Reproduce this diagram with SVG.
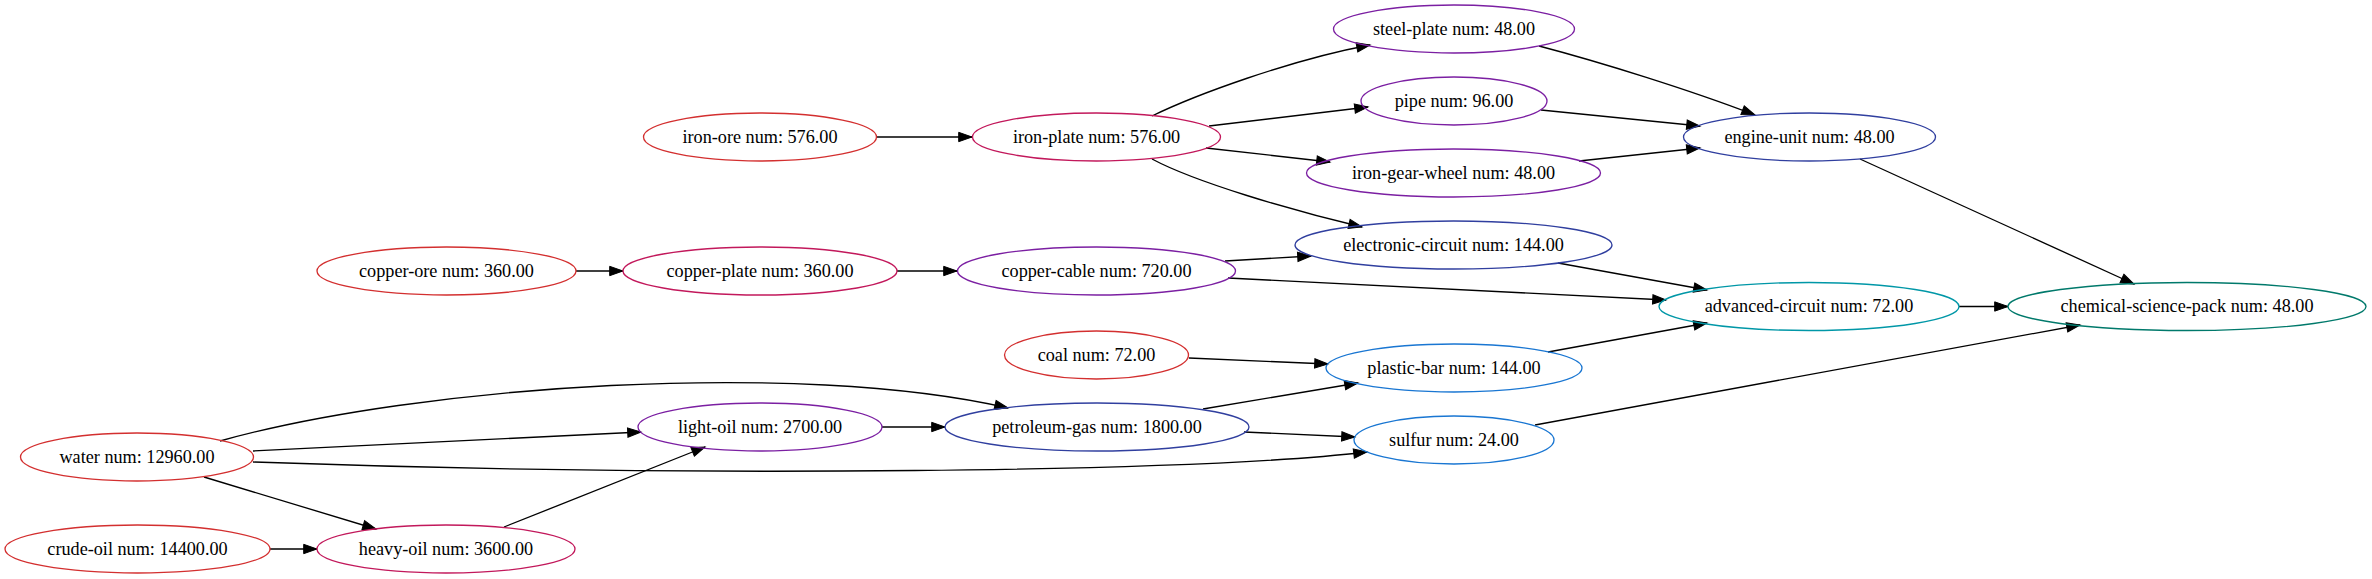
<svg xmlns="http://www.w3.org/2000/svg" width="2372" height="579" viewBox="0 0 2372 579">
<style>
.n ellipse{fill:none;stroke-width:1.33}
.n text{font-family:"Liberation Serif","Times New Roman",serif;font-size:18.2px;text-anchor:middle;fill:#000}
.d0 ellipse{stroke:#d32f2f}
.d1 ellipse{stroke:#c2185b}
.d2 ellipse{stroke:#7b1fa2}
.d3 ellipse{stroke:#303f9f}
.d4 ellipse{stroke:#1976d2}
.d5 ellipse{stroke:#0097a7}
.d6 ellipse{stroke:#00796b}
#edges path{fill:none;stroke:#000;stroke-width:1.33;marker-end:url(#arr)}
</style>
<defs>
<marker id="arr" markerUnits="userSpaceOnUse" markerWidth="14" markerHeight="10" refX="13.3" refY="4.67" orient="auto" overflow="visible">
<path d="M0,0 L13.3,4.67 L0,9.33 Z" fill="#000" stroke="#000" stroke-width="1"/>
</marker>
</defs>
<rect width="2372" height="579" fill="#fff"/>
<g id="edges">
<path d="M876,137 L972,137"/>
<path d="M1152,116 C1195,95 1290,60 1370,45"/>
<path d="M1209,126 L1368,107"/>
<path d="M1206,148 L1330,162"/>
<path d="M1152,159 C1195,182 1290,210 1362,227"/>
<path d="M1539,46 C1600,62 1690,90 1755,115"/>
<path d="M1541,110 L1700,126"/>
<path d="M1579,161 L1700,148"/>
<path d="M1860,159 L2134,284"/>
<path d="M576,271 L623,271"/>
<path d="M897,271 L957,271"/>
<path d="M1225,261 L1311,256"/>
<path d="M1228,278 L1666,300"/>
<path d="M1558,263 L1707,290"/>
<path d="M1548,352 L1707,323"/>
<path d="M1959,306.5 L2008,306.5"/>
<path d="M1535,425 L2080,325"/>
<path d="M1189,358 L1328,364"/>
<path d="M1203,409 L1358,383"/>
<path d="M1244,432 L1355,437"/>
<path d="M220,441 C420,385 800,360 1008,408"/>
<path d="M253,451 L641,432"/>
<path d="M253,462 C700,478 1200,472 1367,452"/>
<path d="M204,477 L376,529"/>
<path d="M270,549 L317,549"/>
<path d="M504,527 L705,447"/>
<path d="M882,427 L945,427"/>
</g>
<g id="water" class="n d0"><ellipse cx="137" cy="457" rx="116.5" ry="24"/><text x="137" y="462.5">water num: 12960.00</text></g>
<g id="crude-oil" class="n d0"><ellipse cx="137.5" cy="549" rx="132.5" ry="24"/><text x="137.5" y="554.5">crude-oil num: 14400.00</text></g>
<g id="copper-ore" class="n d0"><ellipse cx="446.5" cy="271" rx="129.5" ry="24"/><text x="446.5" y="276.5">copper-ore num: 360.00</text></g>
<g id="heavy-oil" class="n d1"><ellipse cx="446" cy="549" rx="129" ry="24"/><text x="446" y="554.5">heavy-oil num: 3600.00</text></g>
<g id="iron-ore" class="n d0"><ellipse cx="760" cy="137" rx="116.5" ry="24"/><text x="760" y="142.5">iron-ore num: 576.00</text></g>
<g id="copper-plate" class="n d1"><ellipse cx="760" cy="271" rx="137" ry="24"/><text x="760" y="276.5">copper-plate num: 360.00</text></g>
<g id="light-oil" class="n d2"><ellipse cx="760" cy="427" rx="122" ry="24"/><text x="760" y="432.5">light-oil num: 2700.00</text></g>
<g id="iron-plate" class="n d1"><ellipse cx="1096.5" cy="137" rx="124" ry="24"/><text x="1096.5" y="142.5">iron-plate num: 576.00</text></g>
<g id="copper-cable" class="n d2"><ellipse cx="1096.5" cy="271" rx="139" ry="24"/><text x="1096.5" y="276.5">copper-cable num: 720.00</text></g>
<g id="coal" class="n d0"><ellipse cx="1096.5" cy="355" rx="92" ry="24"/><text x="1096.5" y="360.5">coal num: 72.00</text></g>
<g id="petroleum-gas" class="n d3"><ellipse cx="1097" cy="427" rx="152" ry="24"/><text x="1097" y="432.5">petroleum-gas num: 1800.00</text></g>
<g id="steel-plate" class="n d2"><ellipse cx="1454" cy="29" rx="120.5" ry="24"/><text x="1454" y="34.5">steel-plate num: 48.00</text></g>
<g id="pipe" class="n d2"><ellipse cx="1454" cy="101" rx="93" ry="24"/><text x="1454" y="106.5">pipe num: 96.00</text></g>
<g id="iron-gear-wheel" class="n d2"><ellipse cx="1453.5" cy="173" rx="147" ry="24"/><text x="1453.5" y="178.5">iron-gear-wheel num: 48.00</text></g>
<g id="electronic-circuit" class="n d3"><ellipse cx="1453.5" cy="245" rx="158.5" ry="24"/><text x="1453.5" y="250.5">electronic-circuit num: 144.00</text></g>
<g id="plastic-bar" class="n d4"><ellipse cx="1454" cy="368" rx="128" ry="24"/><text x="1454" y="373.5">plastic-bar num: 144.00</text></g>
<g id="sulfur" class="n d4"><ellipse cx="1454" cy="440" rx="100" ry="24"/><text x="1454" y="445.5">sulfur num: 24.00</text></g>
<g id="engine-unit" class="n d3"><ellipse cx="1809.5" cy="137" rx="126" ry="24"/><text x="1809.5" y="142.5">engine-unit num: 48.00</text></g>
<g id="advanced-circuit" class="n d5"><ellipse cx="1809" cy="306.5" rx="150" ry="24"/><text x="1809" y="312">advanced-circuit num: 72.00</text></g>
<g id="chemical-science-pack" class="n d6"><ellipse cx="2187" cy="306.5" rx="179" ry="24"/><text x="2187" y="312">chemical-science-pack num: 48.00</text></g>
</svg>
